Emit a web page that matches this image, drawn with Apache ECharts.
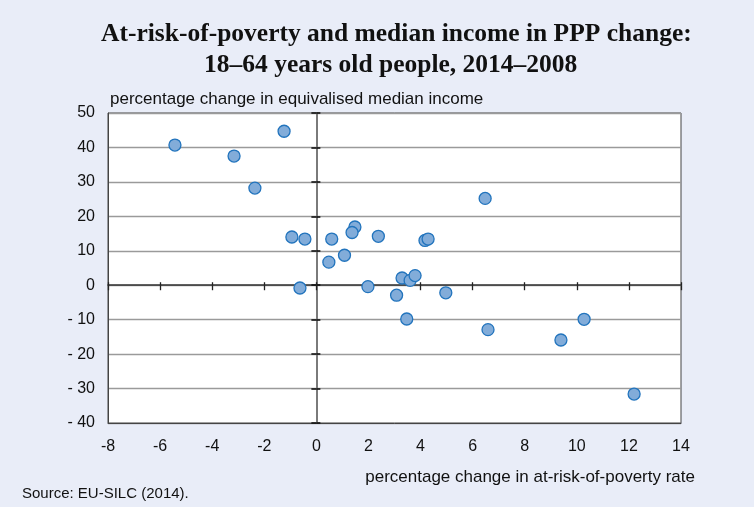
<!DOCTYPE html>
<html><head><meta charset="utf-8">
<script src="https://cdn.jsdelivr.net/npm/echarts@6/dist/echarts.min.js"></script>
<style>html,body{margin:0;padding:0;background:#e9edf8;}#c{width:754px;height:507px;}</style>
</head><body><div id="c"></div>
<script>
const povertyChange = [-5.43, -3.16, -2.36, -1.24, -0.94, -0.44, -0.63, 0.59, 0.48, 1.08, 1.48, 1.37, 2.38, 1.98, 3.08, 3.29, 3.60, 3.79, 3.47, 4.17, 4.29, 4.97, 6.48, 6.59, 9.39, 10.28, 12.20];
const incomeChange  = [40.7, 37.5, 28.2, 44.7, 14.0, 13.4, -0.8, 13.4, 6.7, 8.7, 16.9, 15.3, 14.2, -0.4, -2.9, 2.1, 1.4, 2.8, -9.8, 13.0, 13.4, -2.2, 25.2, -12.9, -15.9, -9.9, -31.6];
const xTicks = {min: -8, max: 14, interval: 2};
const yTicks = {min: -40, max: 50, interval: 10};
const titleLines = ['At-risk-of-poverty and median income in PPP change:', '18\u201364 years old people, 2014\u20132008'];
const yName = 'percentage change in equivalised median income';
const xName = 'percentage change in at-risk-of-poverty rate';
const sourceText = 'Source: EU-SILC (2014).';

const points = povertyChange.map((x, i) => [x, incomeChange[i]]);
const sans = '"Liberation Sans", Arial, sans-serif';
const chart = echarts.init(document.getElementById('c'));
const hiddenAxisX = (extra) => Object.assign({type: 'value', min: xTicks.min, max: xTicks.max, interval: xTicks.interval,
  axisLabel: {show: false}, splitLine: {show: false}}, extra);
const hiddenAxisY = (extra) => Object.assign({type: 'value', min: yTicks.min, max: yTicks.max, interval: yTicks.interval,
  axisLabel: {show: false}, splitLine: {show: false}}, extra);
const titleStyle = {fontFamily: '"Liberation Serif", "Times New Roman", serif', fontWeight: 'bold', fontSize: 25.5, lineHeight: 28, color: '#111'};
chart.setOption({
  backgroundColor: '#e9edf8',
  animation: false,
  title: [
    {text: titleLines[0], left: 96, top: 15, textStyle: titleStyle},
    {text: titleLines[1], left: 199, top: 46, textStyle: titleStyle}
  ],
  graphic: [
    {type: 'text', left: 110, top: 91, style: {text: yName, font: '17px ' + sans, fill: '#111'}},
    {type: 'text', right: 59, top: 469, style: {text: xName, font: '17px ' + sans, fill: '#111'}},
    {type: 'text', left: 22, top: 486, style: {text: sourceText, font: '15px ' + sans, fill: '#111'}}
  ],
  grid: {left: 108, right: 73, top: 113, bottom: 84, show: true, backgroundColor: '#fff', borderColor: '#444', borderWidth: 1},
  xAxis: [
    hiddenAxisX({position: 'bottom', axisLine: {onZero: false, lineStyle: {color: '#444'}}, axisTick: {show: false},
      axisLabel: {show: true, margin: 16, fontSize: 16, fontFamily: sans, color: '#111'}}),
    hiddenAxisX({axisLine: {onZero: true, onZeroAxisIndex: 0, lineStyle: {color: '#333', width: 1.5}},
      axisTick: {show: true, inside: true, length: 5, lineStyle: {color: '#222', width: 1.3}}}),
    hiddenAxisX({axisLine: {onZero: true, onZeroAxisIndex: 0, show: false},
      axisTick: {show: true, inside: false, length: 3, lineStyle: {color: '#222', width: 1.3}}})
  ],
  yAxis: [
    hiddenAxisY({position: 'left', axisLine: {show: true, onZero: false, lineStyle: {color: '#444'}}, axisTick: {show: false},
      axisLabel: {show: true, margin: 13, fontSize: 16, fontFamily: sans, color: '#111',
        formatter: v => (v < 0 ? '- ' + Math.abs(v) : String(v))},
      splitLine: {show: true, lineStyle: {color: '#9a9a9a', width: 1.3}}}),
    hiddenAxisY({axisLine: {show: true, onZero: true, onZeroAxisIndex: 0, lineStyle: {color: '#7a7a7a', width: 2}},
      axisTick: {show: true, inside: true, length: 5, lineStyle: {color: '#111', width: 1.6}}}),
    hiddenAxisY({axisLine: {show: false, onZero: true, onZeroAxisIndex: 0},
      axisTick: {show: true, inside: false, length: 4, lineStyle: {color: '#111', width: 1.6}}})
  ],
  series: [{
    type: 'scatter', xAxisIndex: 0, yAxisIndex: 0, data: points, symbolSize: 12,
    itemStyle: {color: '#82acd9', borderColor: '#2274bd', borderWidth: 1.3, opacity: 1}
  }]
});
</script></body></html>
